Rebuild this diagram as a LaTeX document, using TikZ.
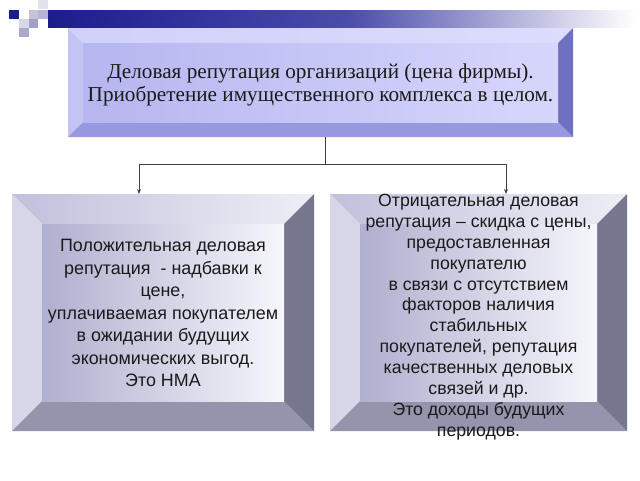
\documentclass[tikz,border=0pt]{standalone}
\usepackage{fontspec}
\setmainfont{Liberation Serif}
\newfontfamily\arialf{Liberation Sans}
\usetikzlibrary{calc,arrows.meta}
\definecolor{navy}{HTML}{1C1C8C}
\definecolor{barmid}{HTML}{4C4CAC}
\definecolor{txt}{HTML}{1A1A1A}
\definecolor{lnc}{HTML}{404040}
\definecolor{sqa}{HTML}{C4C4D4}
\definecolor{sqb}{HTML}{E2E2EC}
\definecolor{sqc}{HTML}{B4B4D8}
\definecolor{sqd}{HTML}{D8D8EC}
\definecolor{sqe}{HTML}{A0A0C8}
\definecolor{sqf}{HTML}{A8A8C8}
\definecolor{ttl}{HTML}{D0D0FA}
\definecolor{ttr}{HTML}{DCDCFD}
\definecolor{tl}{HTML}{C4C4F4}
\definecolor{tb}{HTML}{9898DE}
\definecolor{tr}{HTML}{7070C0}
\definecolor{tfl}{HTML}{B6B6F0}
\definecolor{tfr}{HTML}{D6D6FC}
\definecolor{ltl}{HTML}{C0C0DC}
\definecolor{ltr}{HTML}{EEEEF6}
\definecolor{ll}{HTML}{D6D6E8}
\definecolor{lb}{HTML}{9494AC}
\definecolor{lr}{HTML}{76768E}
\definecolor{lfl}{HTML}{AFAFCF}
\definecolor{lfr}{HTML}{F6F6FC}
\newcommand{\bevelbox}[7]{%
  \shade[left color=#3, right color=#4] (#1.north west) -- (#1.north east) -- ($(#1.north east)+(-#2,#2)$) -- ($(#1.north west)+(#2,#2)$) -- cycle;
  \fill[#5] (#1.north west) -- ($(#1.north west)+(#2,#2)$) -- ($(#1.south west)+(#2,-#2)$) -- (#1.south west) -- cycle;
  \fill[#6] (#1.south west) -- ($(#1.south west)+(#2,-#2)$) -- ($(#1.south east)+(-#2,-#2)$) -- (#1.south east) -- cycle;
  \fill[#7] (#1.north east) -- ($(#1.north east)+(-#2,#2)$) -- ($(#1.south east)+(-#2,-#2)$) -- (#1.south east) -- cycle;
}
\begin{document}
\begin{tikzpicture}[x=1pt,y=-1pt,
  boxn/.style={inner sep=0pt, outer sep=0pt, rectangle},
  conn/.style={draw=lnc, line width=0.9pt},
  arr/.style={conn, -{Stealth[length=5pt,width=4pt]}},
  toptext/.style={align=center, text=txt, font=\fontsize{21.2}{23}\selectfont},
  lowtext/.style={align=center, text=txt, font=\arialf\fontsize{17.9}{22.5}\selectfont},
  lowtextb/.style={align=center, text=txt, font=\arialf\fontsize{17.7}{20.9}\selectfont}]
\useasboundingbox (0,0) rectangle (640,480);
\fill[white] (0,0) rectangle (640,480);
% decorative squares
\fill[navy] (9,10) rectangle (19,19);
\fill[sqa] (29,10) rectangle (38,19);
\fill[sqb] (38,0) rectangle (48,9);
\fill[sqc] (38,10) rectangle (48,19);
\fill[sqd] (19,19) rectangle (29,28);
\fill[sqe] (29,19) rectangle (38,28);
\fill[sqf] (19,28) rectangle (29,37);
% top bar
\shade[left color=navy, right color=barmid] (48,10) rectangle (350,27);
\shade[left color=barmid, right color=white] (350,10) rectangle (635,27);
% boxes
\node[boxn, minimum width=505, minimum height=109] (top) at (320.5,82.5) {};
\node[boxn, minimum width=302, minimum height=237] (left) at (163,312.5) {};
\node[boxn, minimum width=297, minimum height=237] (right) at (478.5,312.5) {};
% top box
\bevelbox{top}{15}{ttl}{ttr}{tl}{tb}{tr}
\shade[left color=tfl, right color=tfr] ($(top.north west)+(15,15)$) rectangle ($(top.south east)+(-15,-15)$);
% lower boxes
\bevelbox{left}{30}{ltl}{ltr}{ll}{lb}{lr}
\shade[left color=lfl, right color=lfr] ($(left.north west)+(30,30)$) rectangle ($(left.south east)+(-30,-30)$);
\bevelbox{right}{30}{ltl}{ltr}{ll}{lb}{lr}
\shade[left color=lfl, right color=lfr] ($(right.north west)+(30,30)$) rectangle ($(right.south east)+(-30,-30)$);
% connectors
\coordinate (j) at (325,164);
\coordinate (la) at (139,164);
\coordinate (ra) at (506,164);
\draw[conn] (top.south -| j) -- (j);
\draw[arr] (j) -| (left.north -| la);
\draw[arr] (j) -| (right.north -| ra);
% texts
\node[toptext] (ttop) at (320.5,85) {Деловая репутация организаций (цена фирмы).\\Приобретение имущественного комплекса в целом.};
\node[lowtext] (tleft) at (163,313) {Положительная деловая\\репутация\ \ - надбавки к\\цене,\\уплачиваемая покупателем\\в ожидании будущих\\экономических выгод.\\Это НМА};
\node[lowtextb] (tright) at (478.5,317) {Отрицательная деловая\\репутация – скидка с цены,\\предоставленная\\покупателю\\в связи с отсутствием\\факторов наличия\\стабильных\\покупателей, репутация\\качественных деловых\\связей и др.\\Это доходы будущих\\периодов.};
\end{tikzpicture}
\end{document}
